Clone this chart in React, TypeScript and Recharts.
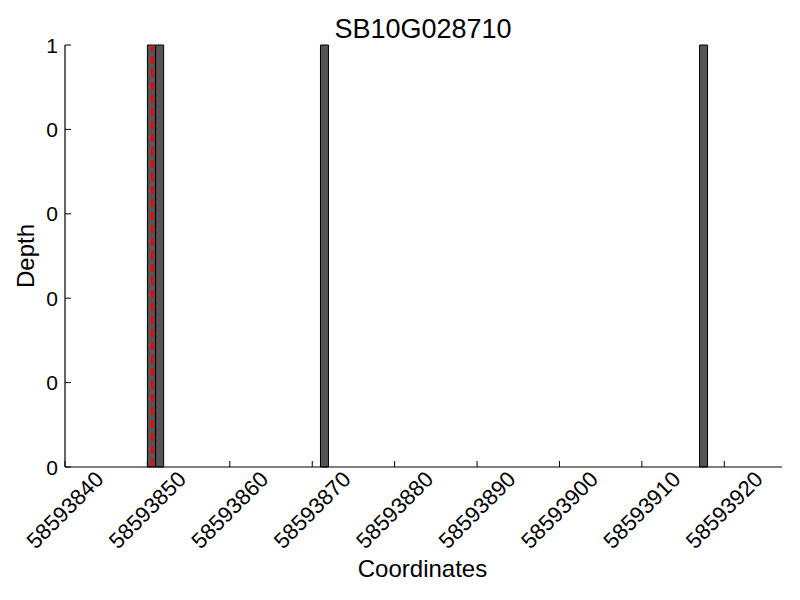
import React from 'react';
import { ComposedChart, Bar, XAxis, YAxis, ReferenceLine, Label } from 'recharts';

const TITLE = 'SB10G028710';
const X_LABEL = 'Coordinates';
const Y_LABEL = 'Depth';

const readStarts = [58593850, 58593851, 58593871, 58593917];
const readDepths = [1, 1, 1, 1];

const xTicks = [58593840, 58593850, 58593860, 58593870, 58593880, 58593890, 58593900, 58593910, 58593920];
const xDomain = [58593840, 58593927];
const yTicks = [0, 0.2, 0.4, 0.6, 0.8, 1];
const yTickLabels = ['0', '0', '0', '0', '0', '1'];
const markerPosition = 58593850.6;

const data = readStarts.map((s, i) => ({ pos: s + 0.5, depth: readDepths[i] }));

const FONT = '"Liberation Sans", Arial, Helvetica, sans-serif';

function XTick(props: any) {
  const { x, y, payload } = props;
  const cy = y + 43;
  return (
    <g>
      <line x1={x} y1={y} x2={x} y2={y - 6} stroke="#000" strokeWidth={1} />
      <text
        x={x}
        y={cy}
        textAnchor="middle"
        dominantBaseline="central"
        transform={`rotate(-45, ${x}, ${cy})`}
        fontSize={22}
        fontFamily={FONT}
        fill="#000"
      >
        {payload.value}
      </text>
    </g>
  );
}

function YTick(props: any) {
  const { x, y, index } = props;
  return (
    <g>
      <line x1={x} y1={y} x2={x + 6} y2={y} stroke="#000" strokeWidth={1} />
      <text
        x={x - 7}
        y={y}
        textAnchor="end"
        dominantBaseline="central"
        fontSize={21}
        fontFamily={FONT}
        fill="#000"
      >
        {yTickLabels[index]}
      </text>
    </g>
  );
}

export default function App() {
  return (
    <div style={{ position: 'absolute', left: 0, top: 0, width: 800, height: 600, background: '#fff' }}>
      <ComposedChart
        width={800}
        height={600}
        data={data}
        margin={{ top: 45, right: 18, left: 0, bottom: 0 }}
      >
        <XAxis
          dataKey="pos"
          type="number"
          domain={xDomain}
          allowDataOverflow
          ticks={xTicks}
          interval={0}
          height={133}
          tickSize={0}
          tickMargin={0}
          tickLine={false}
          tick={<XTick />}
          axisLine={{ stroke: '#000', strokeWidth: 1.2 }}
        >
          <Label
            content={(p: any) => {
              const vb = p.viewBox || { x: 65, y: 467, width: 717, height: 133 };
              return (
                <text
                  x={vb.x + vb.width / 2 - 1}
                  y={vb.y + vb.height - 23}
                  textAnchor="middle"
                  fontSize={24}
                  fontFamily={FONT}
                  fill="#000"
                >
                  {X_LABEL}
                </text>
              );
            }}
          />
        </XAxis>
        <YAxis
          type="number"
          domain={[0, 1]}
          ticks={yTicks}
          interval={0}
          width={65}
          tickSize={0}
          tickMargin={0}
          tickLine={false}
          tick={<YTick />}
          axisLine={{ stroke: '#000', strokeWidth: 1.2 }}
        >
          <Label
            content={(p: any) => {
              const vb = p.viewBox || { x: 0, y: 45, width: 65, height: 422 };
              const cx = 34;
              const cy = vb.y + vb.height / 2;
              return (
                <text
                  x={cx}
                  y={cy}
                  textAnchor="middle"
                  transform={`rotate(-90, ${cx}, ${cy})`}
                  fontSize={24}
                  fontFamily={FONT}
                  fill="#000"
                >
                  {Y_LABEL}
                </text>
              );
            }}
          />
        </YAxis>
        <Bar
          dataKey="depth"
          barSize={8}
          fill="#555555"
          stroke="#000"
          strokeWidth={1}
          isAnimationActive={false}
        />
        <ReferenceLine
          x={markerPosition}
          stroke="#ff0000"
          strokeWidth={2.5}
          strokeDasharray="8 5"
        />
      </ComposedChart>
      <svg
        width={800}
        height={60}
        style={{ position: 'absolute', left: 0, top: 0, pointerEvents: 'none' }}
      >
        <text x={423} y={38} textAnchor="middle" fontSize={27} fontFamily={FONT} fill="#000">
          {TITLE}
        </text>
      </svg>
    </div>
  );
}
